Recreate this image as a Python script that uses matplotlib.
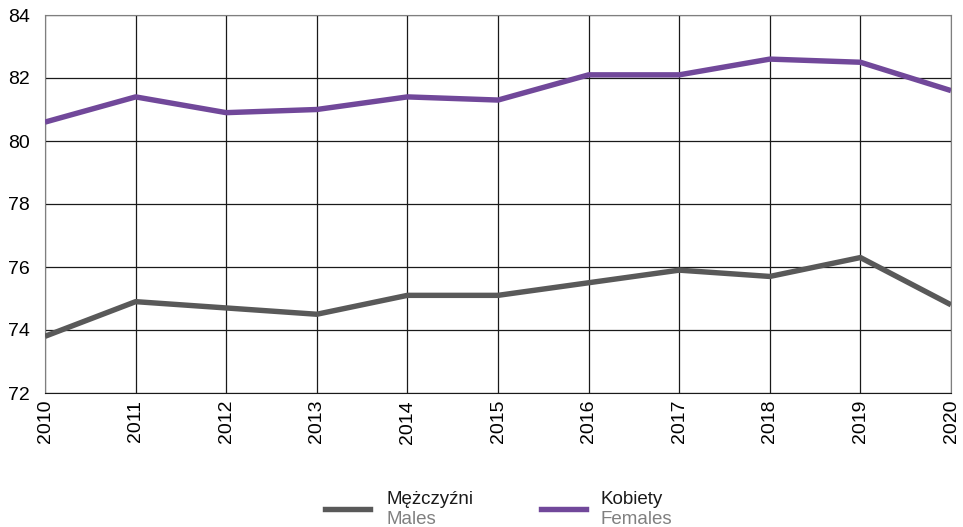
import matplotlib
matplotlib.use("Agg")
import matplotlib.pyplot as plt
from matplotlib.lines import Line2D

plt.rcParams['font.family'] = ['Liberation Sans', 'DejaVu Sans']

# dane
years = [2010, 2011, 2012, 2013, 2014, 2015, 2016, 2017, 2018, 2019, 2020]
males = [73.8, 74.9, 74.7, 74.5, 75.1, 75.1, 75.5, 75.9, 75.7, 76.3, 74.8]
females = [80.6, 81.4, 80.9, 81.0, 81.4, 81.3, 82.1, 82.1, 82.6, 82.5, 81.6]
yticks = [72, 74, 76, 78, 80, 82, 84]

c_m = '#595959'
c_f = '#71489a'

fig = plt.figure(figsize=(9.63, 5.27), dpi=100)
ax = fig.add_axes([45 / 963, 1 - 393 / 527, 906 / 963, 378 / 527])

ax.plot(years, males, color=c_m, lw=3.9, solid_capstyle='butt', zorder=3)
ax.plot(years, females, color=c_f, lw=3.9, solid_capstyle='butt', zorder=3)

ax.set_xlim(2010, 2020)
ax.set_ylim(72, 84)
ax.set_xticks(years)
ax.set_xticklabels([str(y) for y in years], rotation=90, fontsize=14)
ax.set_yticks(yticks)
ax.set_yticklabels([str(y) for y in yticks], fontsize=14)
ax.tick_params(axis='y', length=0, pad=11)
ax.tick_params(axis='x', length=0, pad=5)
ax.grid(True, color='#1a1a1a', lw=0.9)
for s in ['left', 'right', 'top']:
    ax.spines[s].set_color('#7f7f7f')
ax.spines['bottom'].set_color('#1a1a1a')

# legenda
fig.add_artist(Line2D([325 / 963, 370 / 963], [1 - 509 / 527] * 2, color=c_m, lw=3.9))
fig.add_artist(Line2D([541 / 963, 586 / 963], [1 - 509 / 527] * 2, color=c_f, lw=3.9))
fig.text(386 / 963, 1 - 504 / 527, 'Mężczyźni', fontsize=13.5, va='baseline', color='#1a1a1a')
fig.text(386 / 963, 1 - 524 / 527, 'Males', fontsize=13.5, va='baseline', color='#808080')
fig.text(600 / 963, 1 - 504 / 527, 'Kobiety', fontsize=13.5, va='baseline', color='#1a1a1a')
fig.text(600 / 963, 1 - 524 / 527, 'Females', fontsize=13.5, va='baseline', color='#808080')

fig.savefig('out.png', dpi=100)
